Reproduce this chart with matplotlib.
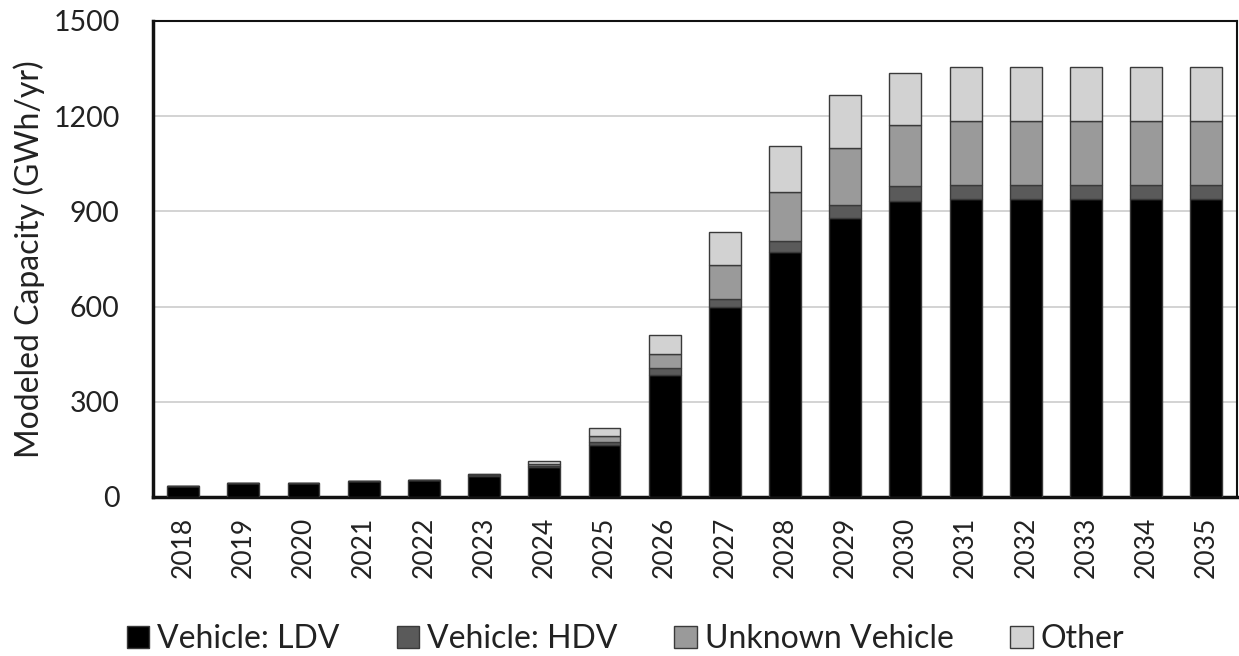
import matplotlib
matplotlib.use("Agg")
import matplotlib.pyplot as plt
import numpy as np

years = ["2018", "2019", "2020", "2021", "2022", "2023", "2024", "2025", "2026",
         "2027", "2028", "2029", "2030", "2031", "2032", "2033", "2034", "2035"]
ldv = [35, 44, 44, 49, 54, 65, 95, 164, 384, 600, 773, 879, 934, 939, 939, 939, 939, 939]
hdv = [0, 0, 0, 0, 0, 5, 3, 10, 21, 23, 35, 41, 46, 45, 45, 45, 45, 45]
unknown = [0, 0, 0, 0, 0, 3, 5, 19, 47, 107, 154, 180, 191, 201, 201, 201, 201, 201]
other = [0, 0, 0, 0, 0, 0, 10, 24, 58, 104, 145, 167, 166, 169, 169, 169, 169, 169]
series_names = ["Vehicle: LDV", "Vehicle: HDV", "Unknown Vehicle", "Other"]
colors = ["#000000", "#5a5a5a", "#9a9a9a", "#d2d2d2"]
yticks = [0, 300, 600, 900, 1200, 1500]

plt.rcParams['font.family'] = ['Lato', 'DejaVu Sans']

fig = plt.figure(figsize=(12.39, 6.56), dpi=100)
ax = fig.add_axes([0.1235, 0.2424, 0.8745, 0.7256])

x = np.arange(len(years))
bottom = np.zeros(len(years))
for vals, name, c in zip([ldv, hdv, unknown, other], series_names, colors):
    ax.bar(x, vals, width=0.53, bottom=bottom, color=c, edgecolor="#3a3a3a",
           linewidth=1.0, label=name, zorder=3)
    bottom += np.array(vals)

ax.set_xlim(-0.5, len(years) - 0.5)
ax.set_ylim(0, 1500)
ax.set_yticks(yticks)
ax.set_yticklabels([str(t) for t in yticks], fontsize=20.5, color="#222222")
ax.set_xticks(x)
ax.set_xticklabels(years, rotation=90, fontsize=19, color="#222222")
ax.tick_params(axis='y', length=0, pad=24)
ax.tick_params(axis='x', length=0, pad=14)
ax.yaxis.grid(True, color="#cccccc", linewidth=1.2, zorder=0)
ax.set_axisbelow(True)
for s in ax.spines.values():
    s.set_color("#111111")
    s.set_linewidth(1.5)
ax.spines['left'].set_linewidth(2.5)
ax.spines['bottom'].set_linewidth(2.5)
ax.set_ylabel("Modeled Capacity (GWh/yr)", fontsize=23, color="#222222")
ax.yaxis.set_label_coords(-0.1, 0.5)

leg = fig.legend(loc="center", bbox_to_anchor=(0.505, 0.026), ncol=4, frameon=False,
                 fontsize=23, handlelength=0.7, handleheight=0.7, handletextpad=0.25,
                 columnspacing=1.78)
for t in leg.get_texts():
    t.set_color("#222222")

fig.savefig("out.png", dpi=100)
